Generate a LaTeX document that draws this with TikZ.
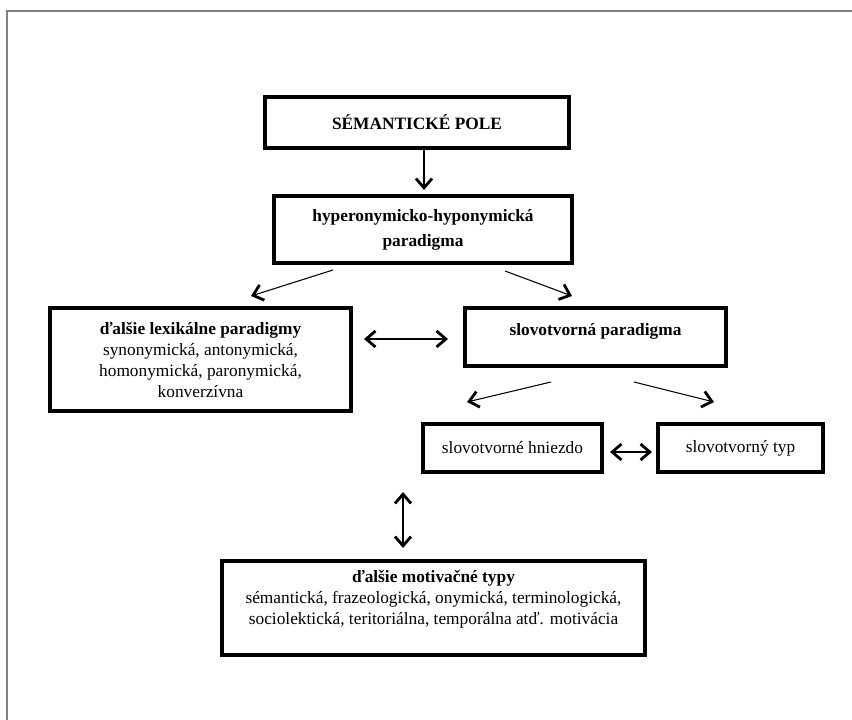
\documentclass[tikz,border=0pt]{standalone}
\usepackage{fontspec}
\setmainfont{Liberation Serif}
\usetikzlibrary{shapes,arrows.meta,positioning}

\begin{document}
\begin{tikzpicture}[x=0.75pt,y=-0.75pt]
      \tikzstyle{box} = [rectangle, draw, line width=2.4pt, align=center, inner sep=2pt, font=\fontsize{13}{15.75}\selectfont]
      \tikzstyle{link} = [line width=0.8pt, >={Straight Barb[length=7pt,width=12pt,line width=2.1pt]}]

      \useasboundingbox (0,0) rectangle (852,720);
      \draw[gray, line width=0.9pt] (7,720) -- (7,11) -- (852,11);

      \node[box, minimum width=228pt, minimum height=38.25pt] (pole) at (417,122.5) {\textbf{SÉMANTICKÉ POLE}};
      \node[box, minimum width=223.5pt, minimum height=50.25pt] (hyper) at (423,229.5) {\textbf{hyperonymicko-hyponymická}\\[3pt]\textbf{paradigma}};
      \node[box, minimum width=225.75pt, minimum height=77.25pt] (lexik) at (200.5,359.5) {\textbf{ďalšie lexikálne paradigmy}\\synonymická, antonymická,\\homonymická, paronymická,\\konverzívna};
      \node[box, minimum width=195.75pt, minimum height=43.5pt, text depth=12pt] (slovp) at (595.5,337) {\textbf{slovotvorná paradigma}};
      \node[box, minimum width=134.25pt, minimum height=36pt] (hniezdo) at (512.5,448) {slovotvorné hniezdo};
      \node[box, minimum width=123.75pt, minimum height=36pt] (typ) at (740.5,448) {slovotvorný typ};
      \node[box, minimum width=317.25pt, minimum height=70.5pt, text depth=16pt] (motiv) at (433.5,608) {\textbf{ďalšie motivačné typy}\\sémantická, frazeologická, onymická, terminologická,\\sociolektická, teritoriálna, temporálna atď. motivácia};

      \coordinate (p1) at (424,150);
      \coordinate (p2) at (424,190);
      \coordinate (h1) at (333,270);
      \coordinate (h2) at (251,296);
      \coordinate (h3) at (505,271);
      \coordinate (h4) at (572,296);
      \coordinate (l1) at (364,339);
      \coordinate (l2) at (448,339);
      \coordinate (s1) at (551,382);
      \coordinate (s2) at (467,402);
      \coordinate (s3) at (634,382);
      \coordinate (s4) at (714,402);
      \coordinate (n1) at (610,452);
      \coordinate (n2) at (652,452);
      \coordinate (m1) at (403,492);
      \coordinate (m2) at (403,548);

      \draw[link, ->] (p1) -- (p2);
      \draw[link, ->] (h1) -- (h2);
      \draw[link, ->] (h3) -- (h4);
      \draw[link, <->] (l1) -- (l2);
      \draw[link, ->] (s1) -- (s2);
      \draw[link, ->] (s3) -- (s4);
      \draw[link, <->] (n1) -- (n2);
      \draw[link, <->] (m1) -- (m2);
\end{tikzpicture}
\end{document}
